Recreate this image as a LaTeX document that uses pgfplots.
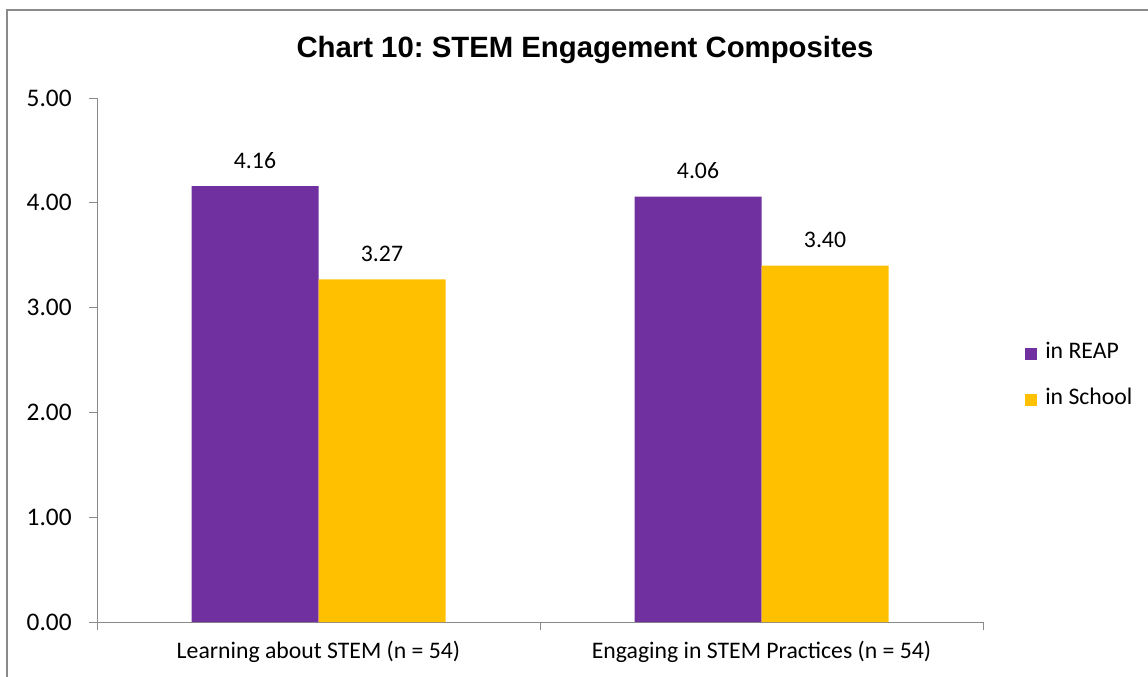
\documentclass[border=0pt]{standalone}
\usepackage{fontspec}
\setmainfont{Carlito}
\newfontfamily\arialfont{Liberation Sans}
\usepackage{pgfplots}
\pgfplotsset{compat=1.18}
\definecolor{reap}{HTML}{7030A0}
\definecolor{school}{HTML}{FFC000}
\definecolor{axgray}{HTML}{8A8A8A}
\frenchspacing
\begin{document}
\begin{tikzpicture}
\begin{scope}[x=0.75pt,y=-0.75pt]
\useasboundingbox (0,0) rectangle (1148,677);
\draw[axgray, line width=1.5pt] (7,700) -- (7,10.5) -- (1160,10.5);
\node[font=\arialfont\bfseries\fontsize{22}{26}\selectfont, anchor=base, inner sep=0] at (585,58) {Chart 10: STEM Engagement Composites};
\end{scope}
\begin{axis}[
  at={(72.75pt,-466.5pt)}, anchor=south west, scale only axis,
  width=664.5pt, height=393pt,
  ybar=0pt, bar width=95.25pt,
  xmin=-0.5, xmax=1.5, ymin=0, ymax=5,
  axis x line*=bottom, axis y line*=left,
  axis line style={axgray, line width=0.75pt},
  tick style={axgray, line width=0.75pt},
  tick align=outside, major tick length=6pt,
  xtick={-0.5,0.5,1.5}, xticklabels={},
  extra x ticks={0,1},
  extra x tick labels={Learning about STEM (n = 54), Engaging in STEM Practices (n = 54)},
  extra x tick style={major tick length=0pt, xticklabel style={yshift=-11pt}},
  ytick={0,1,2,3,4,5},
  yticklabel={\pgfmathprintnumber[fixed,fixed zerofill,precision=2]{\tick}},
  /pgf/number format/assume math mode=true,
  tick label style={font=\fontsize{17.8}{20}\selectfont, black},
  yticklabel style={xshift=-9.5pt, font=\fontsize{19}{21}\selectfont},
  nodes near coords={\pgfmathprintnumber[fixed,fixed zerofill,precision=2]{\pgfplotspointmeta}},
  nodes near coords style={font=\fontsize{17.8}{20}\selectfont, black, anchor=south, inner sep=0pt, yshift=13pt},
  legend style={at={(1.0474,0.4685)}, anchor=west, draw=none, inner sep=0pt,
    font=\fontsize{17.8}{20}\selectfont, row sep=18.5pt,
    nodes={inner sep=0pt, text height=12pt, text depth=4pt},
    /tikz/every odd column/.append style={column sep=6pt}},
  legend cell align=left,
  legend image code/.code={\fill[#1] (0pt,-4.5pt) rectangle (9pt,4.5pt);},
]
\addplot[fill=reap, draw=none] coordinates {(0,4.16) (1,4.06)};
\addplot[fill=school, draw=none] coordinates {(0,3.27) (1,3.40)};
\legend{in REAP, in School}
\end{axis}
\end{tikzpicture}
\end{document}
